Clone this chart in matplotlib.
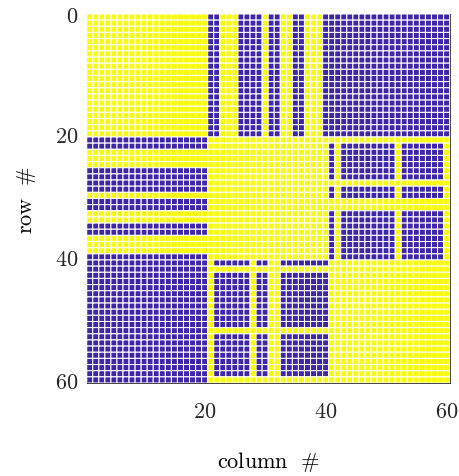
import numpy as np
import matplotlib
matplotlib.use('Agg')
import matplotlib.pyplot as plt
from matplotlib.colors import ListedColormap

plt.rcParams['mathtext.fontset'] = 'cm'

n = 60
# 1 = blue, 0 = yellow, indices are 1-based like the axes
top_blue_cols = [21, 22, 26, 27, 28, 29, 31, 32, 35, 36, 40]
mid_blue_rows = [22, 23, 24, 25, 26, 27, 29, 30, 33, 34, 35, 36, 37, 38, 39, 40]
right_blue_cols = [41, 43, 44, 45, 46, 47, 48, 49, 50, 51, 53, 54, 55, 56, 57, 58, 59]
first_block = list(range(1, 21))
last_block = list(range(41, 61))

x_ticks = [20, 40, 60]
y_ticks = [0, 20, 40, 60]

M = np.zeros((n, n))
for r in first_block:
    for c in top_blue_cols + last_block:
        M[r - 1, c - 1] = 1
for r in mid_blue_rows:
    for c in right_blue_cols:
        M[r - 1, c - 1] = 1
M = np.maximum(M, M.T)   # matrix is symmetric

cmap = ListedColormap(['#F9FB0E', '#3E26A8'])

fig = plt.figure(figsize=(4.6, 4.77), dpi=100)
ax = fig.add_axes([0.1885, 0.195, 0.789, 0.7736])

edges = np.arange(n + 1) + 0.5
mesh = ax.pcolormesh(edges, edges, M, cmap=cmap, vmin=0, vmax=1,
                     edgecolors='white', linewidth=0.75, antialiased=True, zorder=3)
mesh.set_snap(False)
ax.set_xlim(0.5, n + 0.5)
ax.set_ylim(n + 0.5, 0.5)

ax.set_xticks(x_ticks, [r'$%d$' % t for t in x_ticks])
# the 0 tick sits right at the top edge
ax.set_yticks([max(t, 0.5) for t in y_ticks], [r'$%d$' % t for t in y_ticks])
ax.tick_params(direction='in', length=3, width=0.5, labelsize=16, colors='#262626')
ax.tick_params(axis='x', pad=13)
ax.tick_params(axis='y', pad=6)
for s in ax.spines.values():
    s.set_color('#262626')
    s.set_linewidth(0.6)

ax.set_xlabel(r'$\mathrm{column}\ \ \#$', fontsize=16, labelpad=20)
ax.set_ylabel(r'$\mathrm{row}\ \ \#$', fontsize=16, labelpad=12)

fig.savefig('out.png', dpi=100)
